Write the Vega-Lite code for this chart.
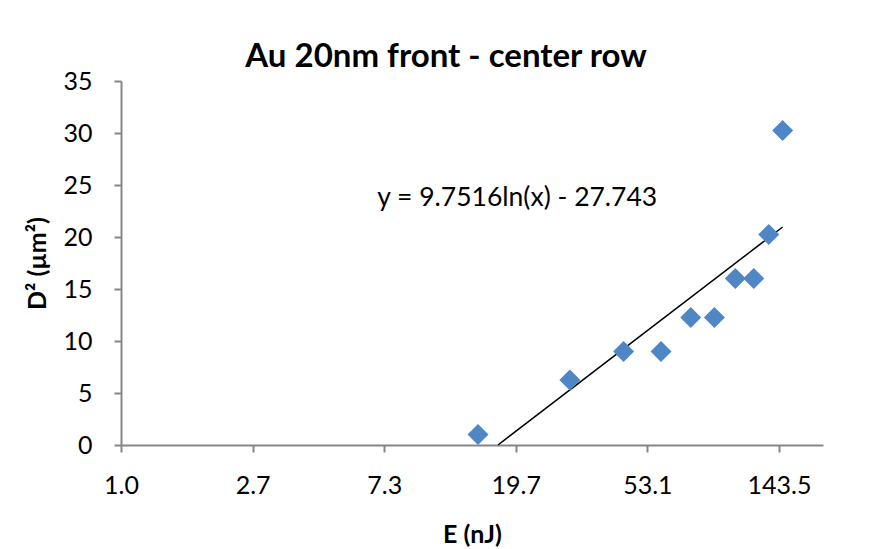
{
  "$schema": "https://vega.github.io/schema/vega-lite/v6.json",
  "width": 702,
  "height": 364,
  "autosize": {"type": "none"},
  "padding": {"left": 121, "top": 81, "right": 50, "bottom": 104},
  "background": "white",
  "title": {
    "text": "Au 20nm front - center row",
    "font": "Lato",
    "fontSize": 33,
    "fontWeight": "bold",
    "color": "#000000",
    "anchor": "middle",
    "dx": -26,
    "dy": 49,
    "baseline": "alphabetic",
    "offset": 18
  },
  "config": {
    "view": {"stroke": null},
    "axis": {
      "grid": false,
      "domainColor": "#868686",
      "domainWidth": 2,
      "tickColor": "#868686",
      "tickWidth": 2,
      "tickSize": 7,
      "labelFont": "Lato",
      "labelFontSize": 25,
      "labelColor": "#000000",
      "titleFont": "Lato",
      "titleFontSize": 25,
      "titleFontWeight": "bold",
      "titleColor": "#000000"
    }
  },
  "datasets": {
    "points": [
      {"E": 14.8, "D2": 1},
      {"E": 29.6, "D2": 6.25},
      {"E": 44.4, "D2": 9},
      {"E": 58.9, "D2": 9},
      {"E": 73.7, "D2": 12.25},
      {"E": 88.1, "D2": 12.25},
      {"E": 103.2, "D2": 16},
      {"E": 118.6, "D2": 16},
      {"E": 132.8, "D2": 20.25},
      {"E": 147.5, "D2": 30.25}
    ],
    "fit": [
      {"E": 17.2, "D2": 0},
      {"E": 147.5, "D2": 20.96}
    ],
    "label": [
      {"E": 19.9, "D2": 23.75, "text": "y = 9.7516ln(x) - 27.743"}
    ]
  },
  "layer": [
    {
      "data": {"name": "fit"},
      "mark": {"type": "line", "color": "#000000", "strokeWidth": 1.5},
      "encoding": {
        "x": {
          "field": "E",
          "type": "quantitative",
          "scale": {"type": "log", "base": 2.7, "domain": [1, 200], "nice": false},
          "axis": {
            "values": [1, 2.7, 7.29, 19.683, 53.1441, 143.48907],
            "format": ".1f",
            "labelFlush": false,
            "labelPadding": 21,
            "title": "E (nJ)",
            "titlePadding": 24
          }
        },
        "y": {
          "field": "D2",
          "type": "quantitative",
          "scale": {"domain": [0, 35], "nice": false},
          "axis": {
            "values": [0, 5, 10, 15, 20, 25, 30, 35],
            "format": "d",
            "labelPadding": 22,
            "title": "D² (µm²)",
            "titlePadding": 12
          }
        }
      }
    },
    {
      "data": {"name": "points"},
      "mark": {"type": "point", "shape": "diamond", "filled": true, "size": 440, "color": "#4F86C6", "opacity": 1},
      "encoding": {
        "x": {"field": "E", "type": "quantitative"},
        "y": {"field": "D2", "type": "quantitative"}
      }
    },
    {
      "data": {"name": "label"},
      "mark": {"type": "text", "font": "Lato", "fontSize": 26.5, "color": "#000000", "align": "center", "baseline": "middle"},
      "encoding": {
        "x": {"field": "E", "type": "quantitative"},
        "y": {"field": "D2", "type": "quantitative"},
        "text": {"field": "text"}
      }
    }
  ]
}
